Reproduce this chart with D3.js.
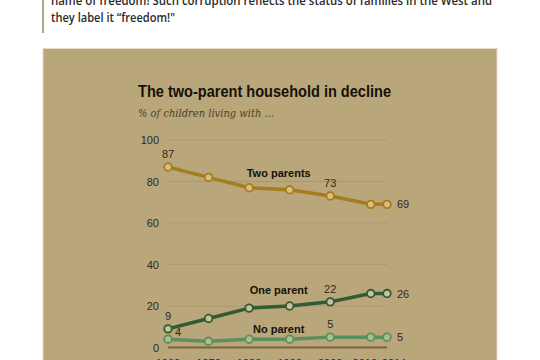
<!DOCTYPE html>
<html>
<head>
<meta charset="utf-8">
<script src="https://cdn.jsdelivr.net/npm/d3@7"></script>
<style>
  html, body { margin: 0; padding: 0; background: #fff; }
  svg { display: block; }
</style>
</head>
<body>
<div id="chart"></div>
<script>
var width = 540, height = 360;

// data
var years = [1960, 1970, 1980, 1990, 2000, 2010, 2014];
var twoParents = [87, 82, 77, 76, 73, 69, 69];
var oneParent = [9, 14, 19, 20, 22, 26, 26];
var noParent = [4, 3, 4, 4, 5, 5, 5];
var yTicks = [0, 20, 40, 60, 80, 100];
var xTicks = ["1960", "1970", "1980", "1990", "2000", "2010", "2014"];

var series = [
    { name: "Two parents", values: twoParents, color: "#a67c1f", fill: "#d8c07a",
      labelAt: [0, 4, 6], nameX: 1987.3, nameY: 82.2 },
    { name: "One parent", values: oneParent, color: "#2f5b36", fill: "#c8c29a",
      labelAt: [0, 4, 6], nameX: 1987.3, nameY: 25.8 },
    { name: "No parent", values: noParent, color: "#5c8f5f", fill: "#aebf8f",
      labelAt: [0, 4, 6], nameX: 1987.3, nameY: 7.1 }
];

var svg = d3.select("#chart").append("svg")
    .attr("width", width)
    .attr("height", height);

// quoted text above the chart
svg.append("rect")
    .attr("x", 42).attr("y", 0).attr("width", 2).attr("height", 33)
    .attr("fill", "#b3a789");

var quote = svg.append("g")
    .attr("font-family", "'Open Sans', 'Noto Sans', sans-serif")
    .attr("font-weight", 600)
    .attr("font-size", 12)
    .attr("fill", "#2b2b2b");
quote.append("text").attr("x", 51).attr("y", 5)
    .attr("textLength", 441).attr("lengthAdjust", "spacingAndGlyphs")
    .text("name of freedom! Such corruption reflects the status of families in the West and");
quote.append("text").attr("x", 51).attr("y", 22)
    .attr("textLength", 124).attr("lengthAdjust", "spacingAndGlyphs")
    .text("they label it \u201cfreedom!\"");

// panel
svg.append("rect")
    .attr("x", 43).attr("y", 48.5).attr("width", 454).attr("height", 320)
    .attr("fill", "#b9a67b")
    .attr("stroke", "#e6dcc4").attr("stroke-width", 1);

// title + subtitle
svg.append("text")
    .attr("x", 138).attr("y", 97)
    .attr("font-family", "'Liberation Sans Narrow', 'Liberation Sans', Arial, sans-serif")
    .attr("font-weight", "bold").attr("font-size", 16)
    .attr("fill", "#151208")
    .attr("textLength", 253).attr("lengthAdjust", "spacingAndGlyphs")
    .text("The two-parent household in decline");

svg.append("text")
    .attr("x", 138).attr("y", 117)
    .attr("font-family", "'DejaVu Serif', 'Liberation Serif', serif")
    .attr("font-style", "italic").attr("font-size", 10.5)
    .attr("fill", "#4d3f23")
    .attr("textLength", 136).attr("lengthAdjust", "spacingAndGlyphs")
    .text("% of children living with ...");

// scales
var x = d3.scaleLinear().domain([1960, 2014]).range([168, 387]);
var y = d3.scaleLinear().domain([0, 100]).range([347.5, 140]);

// gridlines
svg.append("g").selectAll("line")
    .data(yTicks)
    .join("line")
    .attr("x1", 168).attr("x2", 387)
    .attr("y1", d => y(d)).attr("y2", d => y(d))
    .attr("stroke", d => d === 0 ? "#7a6438" : "#ab996d")
    .attr("stroke-width", d => d === 0 ? 2 : 1);

// y axis labels
svg.append("g").selectAll("text")
    .data(yTicks)
    .join("text")
    .attr("x", 159).attr("y", d => y(d) + 4)
    .attr("text-anchor", "end")
    .attr("font-family", "'Liberation Sans', Arial, sans-serif")
    .attr("font-size", 11)
    .attr("fill", "#2e2a22")
    .text(d => d);

// x axis labels (2010 and 2014 pushed apart so they don't collide)
svg.append("g").selectAll("text")
    .data(xTicks)
    .join("text")
    .attr("x", (d, i) => x(years[i]) + (d === "2010" ? -6 : d === "2014" ? 7 : 0))
    .attr("y", 367)
    .attr("text-anchor", "middle")
    .attr("font-family", "'Liberation Sans', Arial, sans-serif")
    .attr("font-size", 11)
    .attr("fill", "#2e2a22")
    .text(d => d);

var line = d3.line()
    .x((d, i) => x(years[i]))
    .y(d => y(d));

series.forEach(function (s) {
    var g = svg.append("g");
    g.append("path")
        .attr("d", line(s.values))
        .attr("fill", "none")
        .attr("stroke", s.color)
        .attr("stroke-width", 3.5)
        .attr("stroke-linejoin", "round");

    g.selectAll("circle")
        .data(s.values)
        .join("circle")
        .attr("cx", (d, i) => x(years[i]))
        .attr("cy", d => y(d))
        .attr("r", 3.8)
        .attr("fill", s.fill)
        .attr("stroke", s.color)
        .attr("stroke-width", 1.8);

    // series name
    g.append("text")
        .attr("x", x(s.nameX)).attr("y", y(s.nameY))
        .attr("text-anchor", "middle")
        .attr("font-family", "'Liberation Sans Narrow', 'Liberation Sans', Arial, sans-serif")
        .attr("font-weight", "bold").attr("font-size", 11)
        .attr("fill", "#151208")
        .text(s.name);

    // value labels
    s.labelAt.forEach(function (i) {
        var v = s.values[i];
        var lx = x(years[i]), ly = y(v) - 9, anchor = "middle";
        if (i === years.length - 1) { lx += 10; ly = y(v) + 4; anchor = "start"; }
        if (s.name === "No parent" && i === 0) { lx += 10; ly = y(v) - 3; }
        g.append("text")
            .attr("x", lx).attr("y", ly)
            .attr("text-anchor", anchor)
            .attr("font-family", "'Liberation Sans', Arial, sans-serif")
            .attr("font-size", 11)
            .attr("fill", "#2e2a22")
            .text(v);
    });
});
</script>
</body>
</html>
